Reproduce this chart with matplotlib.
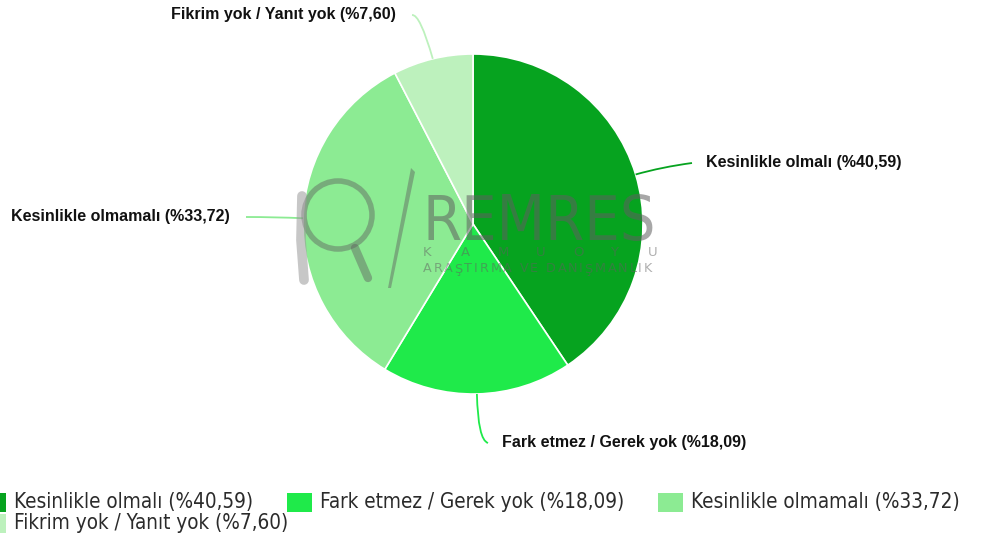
import matplotlib
matplotlib.use("Agg")
import numpy as np
import matplotlib.pyplot as plt
from matplotlib.patches import Rectangle, Circle, Polygon, PathPatch
from matplotlib.path import Path

# Veriler
labels = ["Kesinlikle olmalı", "Fark etmez / Gerek yok", "Kesinlikle olmamalı", "Fikrim yok / Yanıt yok"]
values = [40.59, 18.09, 33.72, 7.60]
colors = ["#06a31f", "#1fea4a", "#8ceb93", "#bdf1bd"]

W, H = 986, 542
fig = plt.figure(figsize=(W / 100, H / 100), dpi=100)
ax = fig.add_axes([0, 0, 1, 1])


def Y(yp):
    return H - yp


cx, cy, r = 473, Y(224), 170
wedges, _ = ax.pie(values, colors=colors, startangle=90, counterclock=False,
                   center=(cx, cy), radius=r, frame=True,
                   wedgeprops=dict(edgecolor="white", linewidth=1.2))
ax.set_xlim(0, W)
ax.set_ylim(0, H)
ax.set_aspect("equal")
ax.axis("off")

# Etiketler: (metin x, metin y, hizalama, kontrol noktası)
label_layout = [
    (706, 163, "left", (662, 167)),
    (502, 443, "left", (478, 440)),
    (230, 217, "right", (275, 217)),
    (396, 15, "right", (420, 14)),
]

for w, lab, val, col, (tx, ty, ha, ctrl) in zip(wedges, labels, values, colors, label_layout):
    ang = np.deg2rad((w.theta1 + w.theta2) / 2)
    sx, sy = cx + r * np.cos(ang), cy + r * np.sin(ang)
    ex = tx - 14 if ha == "left" else tx + 16
    ey = Y(ty)
    path = Path([(sx, sy), (ctrl[0], Y(ctrl[1])), (ex, ey)],
                [Path.MOVETO, Path.CURVE3, Path.CURVE3])
    ax.add_patch(PathPatch(path, facecolor="none", edgecolor=col, linewidth=1.3, zorder=3))
    txt = f"{lab} (%{val:.2f})".replace(".", ",")
    ax.text(tx, Y(ty), txt, ha=ha, va="center", fontsize=11.5, fontweight="bold",
            family="Liberation Sans", color="#111111")

fig.canvas.draw()
renderer = fig.canvas.get_renderer()


def text_width(s, **kw):
    t = ax.text(0, 0, s + "|", **kw)
    bar = ax.text(0, 0, "|", **kw)
    w = t.get_window_extent(renderer).width - bar.get_window_extent(renderer).width
    t.remove()
    bar.remove()
    return w


# Filigran (logo)
wm = "#5f5f5f"
ax.add_patch(Circle((338, Y(215)), 34, fill=False, edgecolor=wm, linewidth=4, alpha=0.45, zorder=4))
ax.plot([355, 368], [Y(248), Y(278)], color=wm, linewidth=6, alpha=0.45,
        solid_capstyle="round", zorder=4)
ax.plot([302, 301, 304], [Y(196), Y(240), Y(280)], color="#9a9a9a", linewidth=7, alpha=0.55,
        solid_capstyle="round", zorder=4)
ax.add_patch(Polygon([(411, Y(168)), (415, Y(172)), (391, Y(288)), (388, Y(288))],
                     closed=True, color=wm, alpha=0.45, linewidth=0, zorder=4))
ax.text(422, Y(240), "REMRES", fontsize=45, family="DejaVu Sans", fontstretch="condensed",
        fontweight="medium", color=wm, alpha=0.55, va="baseline", ha="left", zorder=4)

small = dict(fontsize=9.5, family="DejaVu Sans", color="#606060",
             alpha=0.5, va="center", ha="left", zorder=4)
for i, ch in enumerate("KAMUOYU"):
    ax.text(423 + i * 37.5, Y(253), ch, **small)

sub = "ARAŞTIRMA VE DANIŞMANLIK"
span = 229
base_w = text_width(sub, fontsize=9.2, family="DejaVu Sans")
gap = (span - base_w) / (len(sub) - 1)
for i, ch in enumerate(sub):
    x = 423 + text_width(sub[:i], fontsize=9.2, family="DejaVu Sans") + i * gap
    ax.text(x, Y(269), ch, **{**small, "fontsize": 9.2})

# Lejant (akışlı düzen)
lx0, ly = -19, 502
lx = lx0
mw, mh = 25, 19
for lab, val, col in zip(labels, values, colors):
    txt = f"{lab} (%{val:.2f})".replace(".", ",")
    t = ax.text(0, 0, txt, fontsize=14.85, family="DejaVu Sans", fontstretch="condensed",
                color="#2b2b2b", va="center", ha="left")
    tw = t.get_window_extent(renderer).width
    if lx + mw + 8 + tw > W:
        lx, ly = lx0, ly + 21
    ax.add_patch(Rectangle((lx, Y(ly) - mh / 2), mw, mh, color=col, linewidth=0))
    t.set_position((lx + mw + 8, Y(ly)))
    lx += mw + 8 + tw + 34

fig.savefig("out.png", dpi=100)
